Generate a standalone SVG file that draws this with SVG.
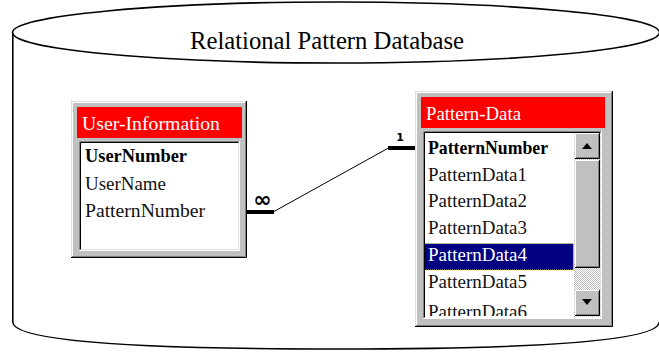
<svg xmlns="http://www.w3.org/2000/svg" width="659" height="352" viewBox="0 0 659 352">
  <style>
    .cyl { fill: none; stroke: #000; stroke-width: 1.6; }
    .title { font-family: "Liberation Serif", "Times New Roman", serif; font-size: 25px; fill: #000; }
    .cap { font-family: "Liberation Serif", "Times New Roman", serif; font-size: 19px; fill: #fff; }
    .row { font-family: "Liberation Serif", "Times New Roman", serif; font-size: 19px; fill: #111; }
    .key { font-weight: bold; fill: #000; }
    .sel { fill: #fff; }
    .face { fill: #c0c0c0; }
    .hi { stroke: #fff; stroke-width: 1; fill: none; }
    .lt { stroke: #dfdfdf; stroke-width: 1; fill: none; }
    .sh { stroke: #808080; stroke-width: 1; fill: none; }
    .dk { stroke: #000; stroke-width: 1; fill: none; }
    .bar { fill: #ff0000; }
    .card { font-family: "DejaVu Sans", sans-serif; font-weight: bold; fill: #000; }
  </style>
  <defs>
    <pattern id="dither" width="2" height="2" patternUnits="userSpaceOnUse">
      <rect width="2" height="2" fill="#ffffff"/>
      <rect width="1" height="1" fill="#c0c0c0"/>
      <rect x="1" y="1" width="1" height="1" fill="#c0c0c0"/>
    </pattern>
    <clipPath id="listClip">
      <rect x="425" y="133" width="149" height="183"/>
    </clipPath>
  </defs>

  <!-- database cylinder -->
  <g id="database">
    <ellipse class="cyl" cx="336" cy="32.5" rx="323.5" ry="30.5"/>
    <path class="cyl" d="M12.8,33 V322 C12.8,340 120,349 336,349 C552,349 659.2,340 659.2,322"/>
    <text class="title" x="327" y="49" text-anchor="middle" textLength="274" lengthAdjust="spacingAndGlyphs">Relational Pattern Database</text>
  </g>

  <!-- table: User-Information -->
  <g id="user-information">
    <rect class="face" x="71" y="101" width="176" height="157"/>
    <polyline class="lt" points="71.5,257 71.5,101.5 246,101.5"/>
    <polyline class="hi" points="72.5,256 72.5,102.5 245,102.5"/>
    <polyline class="sh" points="72,256.5 245.5,256.5 245.5,102"/>
    <polyline class="dk" points="71,257.5 246.5,257.5 246.5,101"/>
    <rect class="bar" x="77" y="107" width="165" height="31"/>
    <text class="cap" x="82" y="130" textLength="138" lengthAdjust="spacingAndGlyphs">User-Information</text>
    <rect x="79" y="141" width="161" height="110" fill="#fff"/>
    <polyline class="sh" points="79.5,250.5 79.5,141.5 239.5,141.5"/>
    <polyline class="dk" points="80.5,249.5 80.5,142.5 238.5,142.5"/>
    <polyline class="lt" points="81,249.5 238.5,249.5 238.5,143"/>
    <polyline class="hi" points="79,250.5 239.5,250.5 239.5,141"/>
    <text class="row key" x="85" y="162" textLength="102" lengthAdjust="spacingAndGlyphs">UserNumber</text>
    <text class="row" x="85" y="190" textLength="81" lengthAdjust="spacingAndGlyphs">UserName</text>
    <text class="row" x="85" y="217" textLength="120" lengthAdjust="spacingAndGlyphs">PatternNumber</text>
  </g>

  <!-- table: Pattern-Data -->
  <g id="pattern-data">
    <rect class="face" x="415" y="91" width="198" height="236"/>
    <polyline class="lt" points="415.5,326 415.5,91.5 612,91.5"/>
    <polyline class="hi" points="416.5,325 416.5,92.5 611,92.5"/>
    <polyline class="sh" points="416,325.5 611.5,325.5 611.5,92"/>
    <polyline class="dk" points="415,326.5 612.5,326.5 612.5,91"/>
    <rect class="bar" x="421" y="97" width="184" height="31"/>
    <text class="cap" x="426" y="119.5" textLength="95" lengthAdjust="spacingAndGlyphs">Pattern-Data</text>
    <rect x="423" y="131" width="179" height="188" fill="#fff"/>
    <g clip-path="url(#listClip)">
      <text class="row key" x="428" y="153.5" textLength="120" lengthAdjust="spacingAndGlyphs">PatternNumber</text>
      <text class="row" x="428" y="180.5" textLength="99" lengthAdjust="spacingAndGlyphs">PatternData1</text>
      <text class="row" x="428" y="207" textLength="99" lengthAdjust="spacingAndGlyphs">PatternData2</text>
      <text class="row" x="428" y="234" textLength="99" lengthAdjust="spacingAndGlyphs">PatternData3</text>
      <rect x="424.5" y="243.5" width="149" height="26.5" fill="#000080" stroke="#e8e070" stroke-width="1" stroke-dasharray="1 1"/>
      <text class="row sel" x="428" y="261" textLength="99" lengthAdjust="spacingAndGlyphs">PatternData4</text>
      <text class="row" x="428" y="287.5" textLength="99" lengthAdjust="spacingAndGlyphs">PatternData5</text>
      <text class="row" x="428" y="317.5" textLength="99" lengthAdjust="spacingAndGlyphs">PatternData6</text>
    </g>
    <!-- vertical scrollbar -->
    <rect x="574" y="133" width="27" height="184" fill="url(#dither)"/>
    <g id="scroll-up">
      <rect class="face" x="575" y="133" width="25" height="26"/>
      <polyline class="hi" points="575.5,158 575.5,133.5 599,133.5"/>
      <polyline class="sh" points="576,157.5 598.5,157.5 598.5,134"/>
      <polyline class="dk" points="575,158.5 599.5,158.5 599.5,133"/>
      <polygon points="582,149 592,149 587,143" fill="#000"/>
    </g>
    <g id="scroll-thumb">
      <rect class="face" x="575" y="160" width="25" height="108"/>
      <polyline class="hi" points="575.5,267 575.5,160.5 599,160.5"/>
      <polyline class="sh" points="576,266.5 598.5,266.5 598.5,161"/>
      <polyline class="dk" points="575,267.5 599.5,267.5 599.5,160"/>
    </g>
    <g id="scroll-down">
      <rect class="face" x="575" y="290" width="25" height="26"/>
      <polyline class="hi" points="575.5,315 575.5,290.5 599,290.5"/>
      <polyline class="sh" points="576,314.5 598.5,314.5 598.5,291"/>
      <polyline class="dk" points="575,315.5 599.5,315.5 599.5,290"/>
      <polygon points="582,299 592,299 587,305" fill="#000"/>
    </g>
    <polyline class="sh" points="423.5,318.5 423.5,131.5 601.5,131.5"/>
    <polyline class="dk" points="424.5,317.5 424.5,132.5 600.5,132.5"/>
    <polyline class="hi" points="423,318.5 601.5,318.5 601.5,131"/>
  </g>

  <!-- relationship: one PatternNumber to many users -->
  <g id="connectors">
    <line x1="273" y1="212" x2="388.5" y2="148" stroke="#000" stroke-width="1"/>
    <rect x="247" y="210" width="27" height="4" fill="#000"/>
    <rect x="388" y="146" width="27" height="4" fill="#000"/>
    <text class="card" x="262.5" y="207" font-size="22" text-anchor="middle">∞</text>
    <text class="card" x="400" y="141" font-size="11" text-anchor="middle">1</text>
  </g>
</svg>
